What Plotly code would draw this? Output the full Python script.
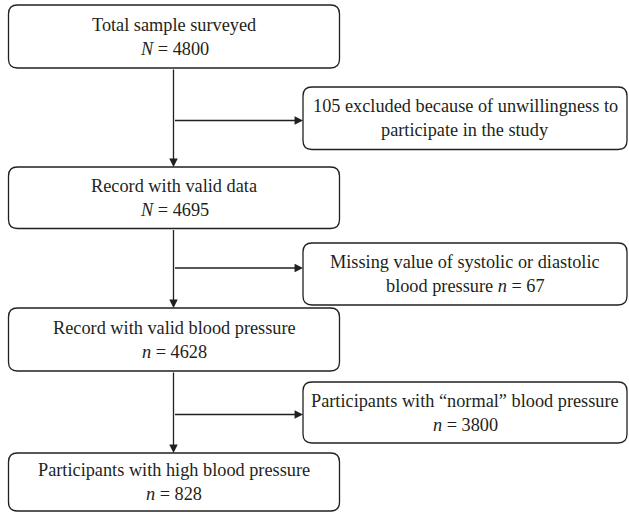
import plotly.graph_objects as go

# ---- data ----
main_labels = ["Total sample surveyed", "Record with valid data",
               "Record with valid blood pressure", "Participants with high blood pressure"]
main_symbols = ["N", "N", "n", "n"]
main_counts = [4800, 4695, 4628, 828]

side_counts = [105, 67, 3800]
side_line1 = ["{c} excluded because of unwillingness to",
              "Missing value of systolic or diastolic",
              "Participants with \u201cnormal\u201d blood pressure"]
side_line2 = ["participate in the study",
              "blood pressure <i>n</i> = {c}",
              "<i>n</i> = {c}"]

# ---- layout geometry (pixels) ----
W, H = 629, 513
main_x = (8.5, 339.5)
main_y = [(5, 68), (167, 228.5), (308, 371), (453, 511)]
side_x = (303, 627)
side_y = [(87, 149.5), (243, 305), (382, 443)]
branch_y = [120.5, 268, 414.5]
spine_x = 173.5
R = 9
LC = "#231f20"
FONT = dict(family="Liberation Serif, Times New Roman, serif", size=18.3, color=LC)


def rrect(x0, x1, y0, y1, r=R):
    return (f"M {x0+r},{y0} L {x1-r},{y0} Q {x1},{y0} {x1},{y0+r} "
            f"L {x1},{y1-r} Q {x1},{y1} {x1-r},{y1} L {x0+r},{y1} "
            f"Q {x0},{y1} {x0},{y1-r} L {x0},{y0+r} Q {x0},{y0} {x0+r},{y0} Z")


fig = go.Figure()
shapes = []
annotations = []


def two_lines(cx, y0, y1, l1, l2):
    cy = (y0 + y1) / 2
    for txt, yy in ((l1, cy - 12), (l2, cy + 12)):
        annotations.append(dict(x=cx, y=yy, xref="x", yref="y", text=txt,
                                showarrow=False, font=FONT, xanchor="center",
                                yanchor="middle"))


for i, (lab, sym, cnt) in enumerate(zip(main_labels, main_symbols, main_counts)):
    y0, y1 = main_y[i]
    shapes.append(dict(type="path", path=rrect(main_x[0], main_x[1], y0, y1),
                       line=dict(color=LC, width=1.3), fillcolor="white", layer="above"))
    two_lines((main_x[0] + main_x[1]) / 2, y0, y1, lab, f"<i>{sym}</i> = {cnt}")

for i, cnt in enumerate(side_counts):
    y0, y1 = side_y[i]
    shapes.append(dict(type="path", path=rrect(side_x[0], side_x[1], y0, y1),
                       line=dict(color=LC, width=1.3), fillcolor="white", layer="above"))
    two_lines((side_x[0] + side_x[1]) / 2, y0, y1,
              side_line1[i].format(c=cnt), side_line2[i].format(c=cnt))

# connectors
for i in range(len(main_y) - 1):
    top = main_y[i][1]
    bot = main_y[i + 1][0]
    annotations.append(dict(x=spine_x, y=bot, ax=spine_x, ay=top, xref="x", yref="y",
                            axref="x", ayref="y", text="", showarrow=True,
                            arrowhead=2, arrowsize=1.3, arrowwidth=1.3, arrowcolor=LC))
    by = branch_y[i]
    annotations.append(dict(x=side_x[0], y=by, ax=spine_x, ay=by, xref="x", yref="y",
                            axref="x", ayref="y", text="", showarrow=True,
                            arrowhead=2, arrowsize=1.3, arrowwidth=1.3, arrowcolor=LC))

fig.update_layout(
    width=W, height=H, margin=dict(l=0, r=0, t=0, b=0),
    paper_bgcolor="white", plot_bgcolor="white",
    xaxis=dict(range=[0, W], visible=False, fixedrange=True),
    yaxis=dict(range=[H, 0], visible=False, fixedrange=True),
    shapes=shapes, annotations=annotations, showlegend=False,
)

fig.write_html("out.html", config={"displayModeBar": False},
               post_script="document.body.style.margin='0';document.body.style.overflow='hidden';")
